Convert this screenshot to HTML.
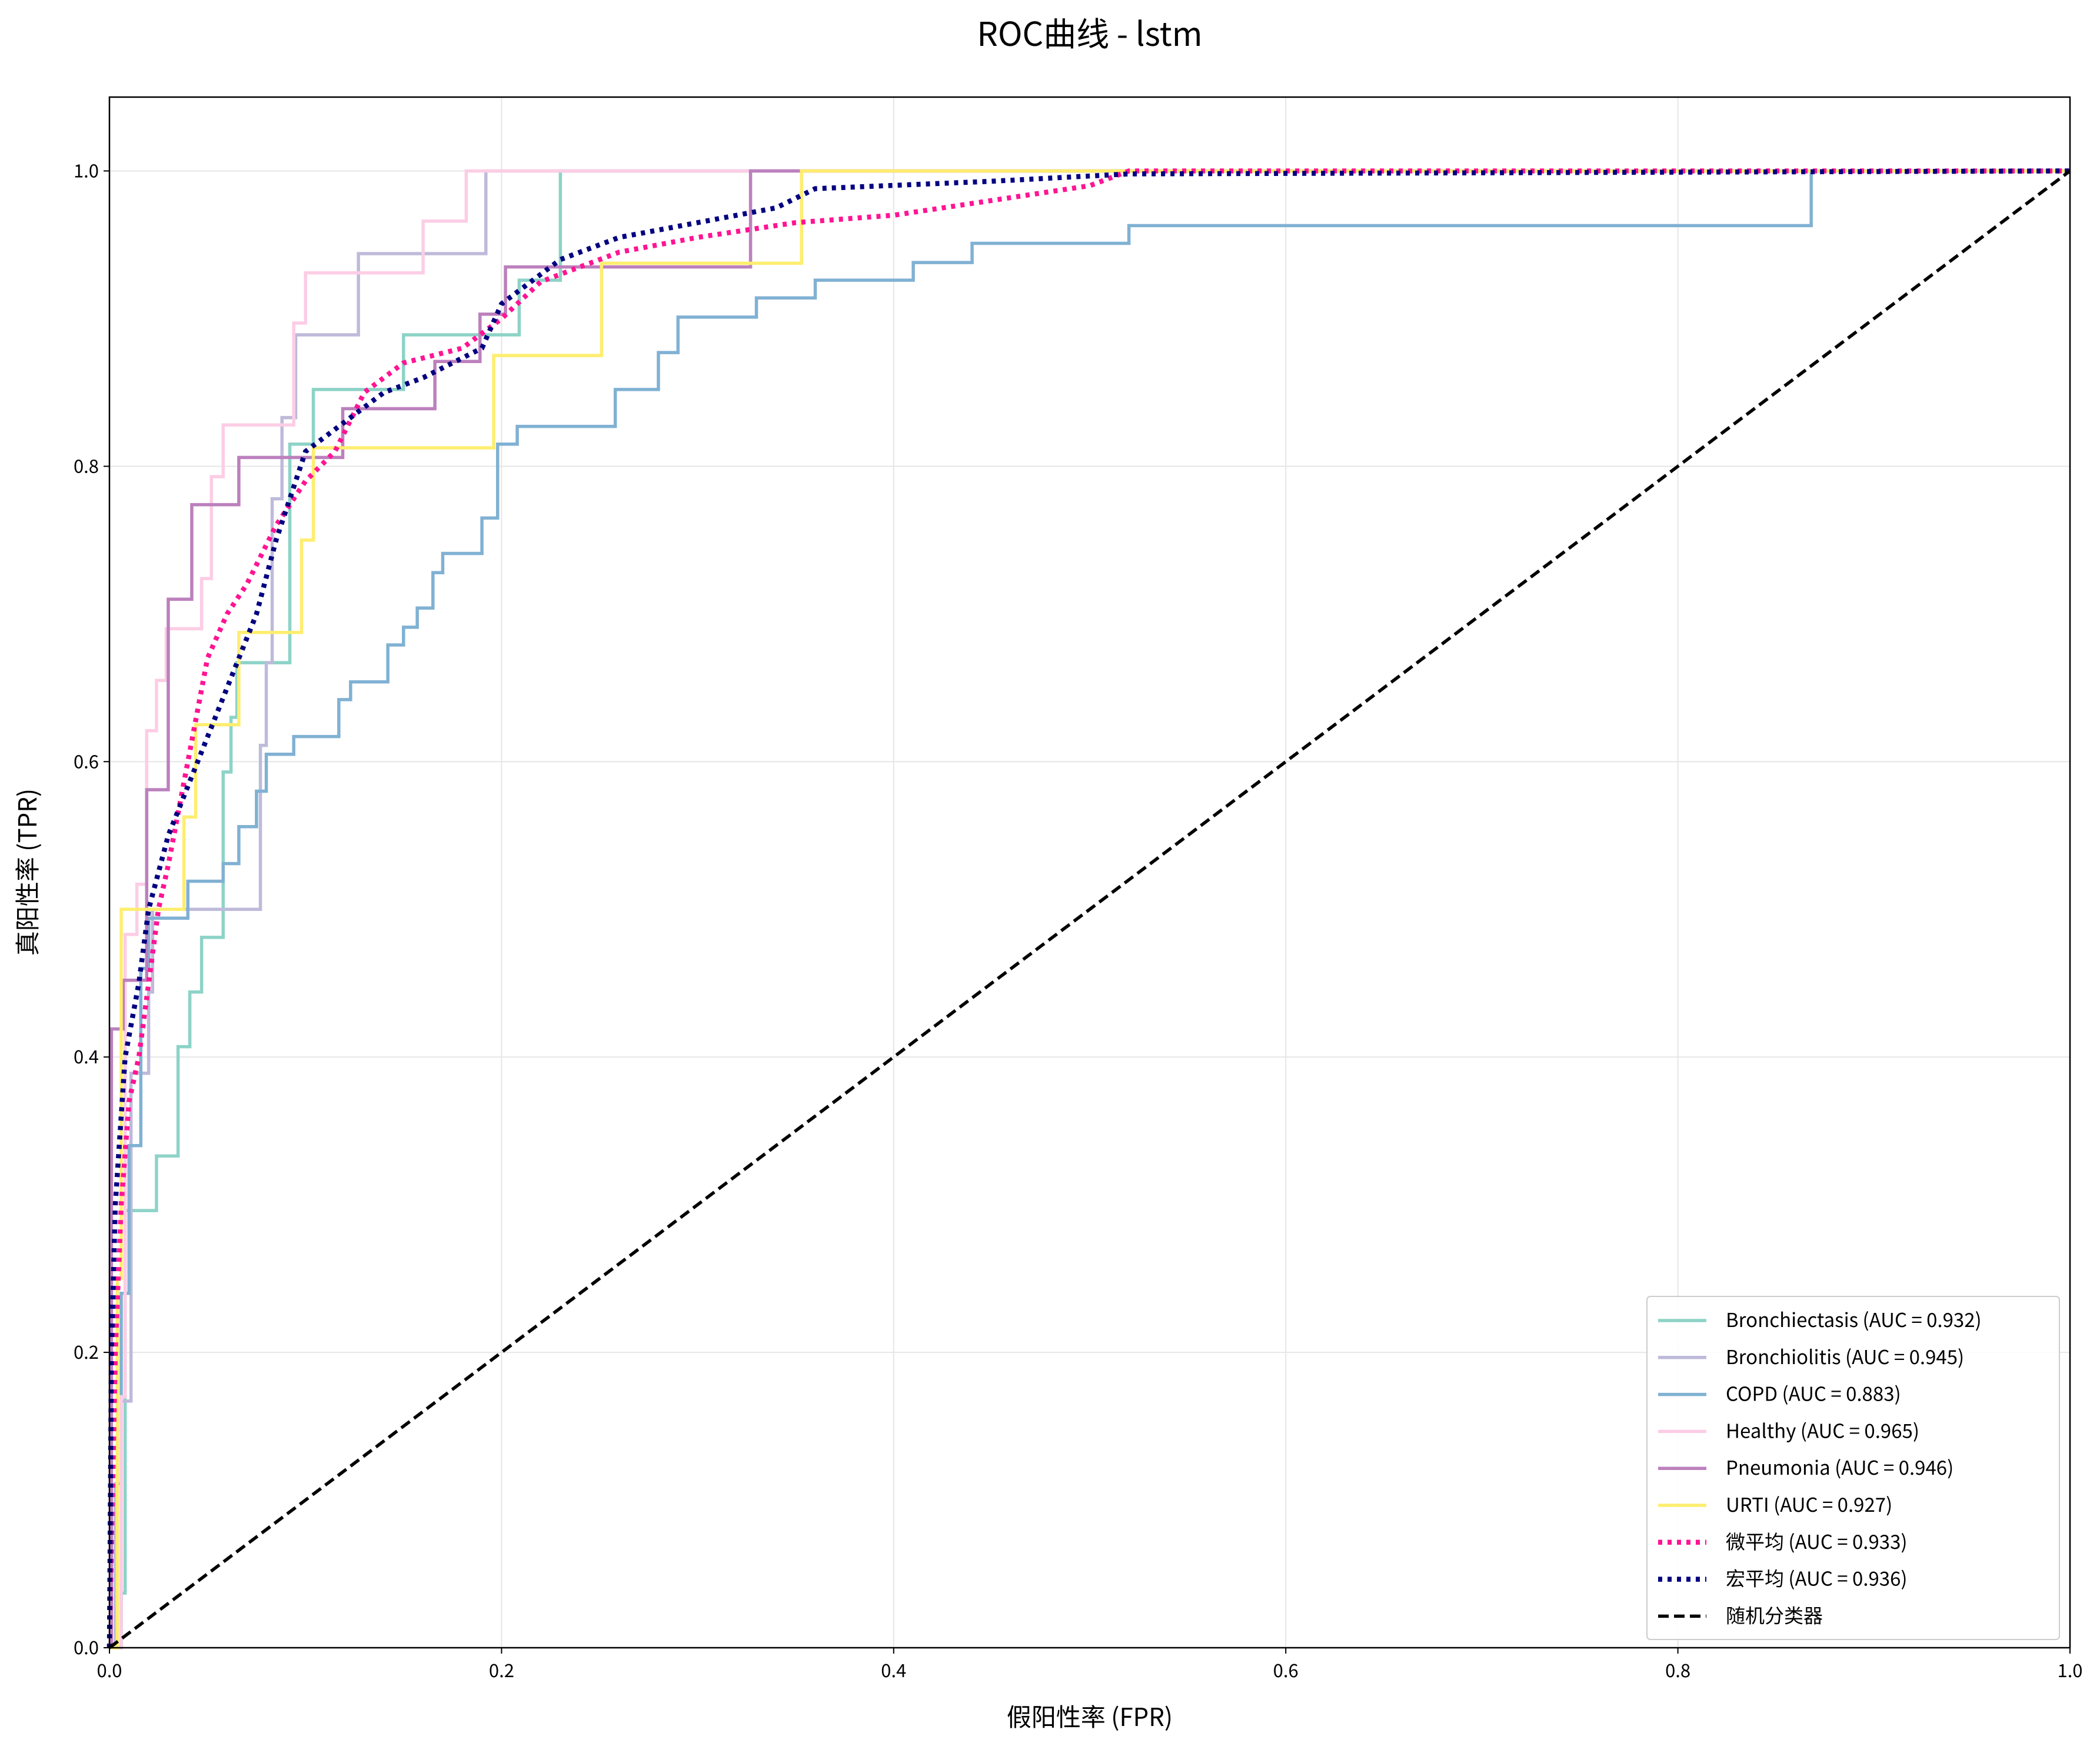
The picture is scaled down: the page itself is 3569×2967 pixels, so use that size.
<!DOCTYPE html>
<html><head><meta charset="utf-8"><style>
html,body{margin:0;padding:0;background:#fff}
svg{display:block}
text{font-family:"Noto Sans CJK SC","Liberation Sans",sans-serif}
</style></head><body>
<svg id="chart" width="3569" height="2967" viewBox="0 0 3569 2967" xmlns="http://www.w3.org/2000/svg">
<rect width="3569" height="2967" fill="#fff"/>
<text x="1852" y="78" font-size="56" text-anchor="middle" fill="#000">ROC曲线 - lstm</text>
<g id="grid"></g>
<g id="series"></g>
<rect x="186" y="165" width="3332" height="2635" fill="none" stroke="#000" stroke-width="2.5"/>
<g id="ticks"></g>
<text x="1852" y="2933" font-size="42" text-anchor="middle">假阳性率 (FPR)</text>
<text transform="translate(62,1482) rotate(-90)" font-size="42" text-anchor="middle">真阳性率 (TPR)</text>
<g id="legend"></g>
</svg>
<script>
const tickVals=[0,0.2,0.4,0.6,0.8,1.0];
const tickLabels=["0.0","0.2","0.4","0.6","0.8","1.0"];
const names=["Bronchiectasis (AUC = 0.932)","Bronchiolitis (AUC = 0.945)","COPD (AUC = 0.883)","Healthy (AUC = 0.965)","Pneumonia (AUC = 0.946)","URTI (AUC = 0.927)","微平均 (AUC = 0.933)","宏平均 (AUC = 0.936)","随机分类器"];
const bronchiectasisFpr=[0,0.006,0.008,0.024,0.035,0.041,0.047,0.058,0.062,0.065,0.092,0.104,0.15,0.209,0.23,1];
const bronchiectasisTpr=[0,0.037,0.296,0.333,0.407,0.444,0.481,0.593,0.630,0.667,0.815,0.852,0.889,0.926,1.0,1.0];
const bronchiolitisFpr=[0,0.003,0.006,0.011,0.02,0.022,0.077,0.08,0.083,0.088,0.095,0.127,0.192,1];
const bronchiolitisTpr=[0,0.111,0.167,0.389,0.444,0.5,0.611,0.667,0.778,0.833,0.889,0.944,1.0,1.0];
const copdFpr=[0,0.006,0.01,0.016,0.02,0.04,0.058,0.066,0.075,0.08,0.094,0.117,0.123,0.142,0.15,0.157,0.165,0.17,0.19,0.198,0.208,0.258,0.28,0.29,0.33,0.36,0.41,0.44,0.52,0.868,1];
const copdTpr=[0,0.24,0.34,0.46,0.494,0.519,0.531,0.556,0.58,0.605,0.617,0.642,0.654,0.679,0.691,0.704,0.728,0.741,0.765,0.815,0.827,0.852,0.877,0.901,0.914,0.926,0.938,0.951,0.963,1.0,1.0];
const healthyFpr=[0,0.006,0.008,0.014,0.019,0.024,0.029,0.047,0.052,0.058,0.094,0.1,0.16,0.182,1];
const healthyTpr=[0,0.17,0.483,0.517,0.621,0.655,0.69,0.724,0.793,0.828,0.897,0.931,0.966,1.0,1.0];
const pneumoniaFpr=[0,0.001,0.007,0.019,0.03,0.042,0.066,0.119,0.166,0.189,0.202,0.327,1];
const pneumoniaTpr=[0,0.419,0.452,0.581,0.71,0.774,0.806,0.839,0.871,0.903,0.935,1.0,1.0];
const urtiFpr=[0,0.004,0.006,0.038,0.044,0.066,0.098,0.104,0.196,0.251,0.353,1];
const urtiTpr=[0,0.25,0.5,0.5625,0.625,0.6875,0.75,0.8125,0.875,0.9375,1.0,1.0];
const microFpr=[0,0.003,0.006,0.01,0.015,0.02,0.025,0.03,0.04,0.05,0.06,0.07,0.085,0.1,0.115,0.13,0.15,0.18,0.2,0.22,0.26,0.3,0.35,0.4,0.45,0.5,0.52,1];
const microTpr=[0,0.2,0.3,0.37,0.4,0.45,0.5,0.53,0.6,0.67,0.7,0.72,0.76,0.79,0.81,0.85,0.87,0.88,0.9,0.925,0.945,0.955,0.965,0.97,0.98,0.99,1.0,1.0];
const macroFpr=[0,0.001,0.003,0.008,0.015,0.02,0.03,0.045,0.06,0.075,0.085,0.1,0.12,0.14,0.16,0.19,0.2,0.23,0.26,0.3,0.34,0.36,0.45,0.52,1];
const macroTpr=[0,0.2,0.3,0.4,0.45,0.5,0.55,0.6,0.65,0.7,0.75,0.81,0.83,0.85,0.86,0.88,0.91,0.94,0.955,0.965,0.975,0.988,0.993,0.998,1.0];

const L=186,R=3518,T=165,B=2800,YMAX=1.05;
const xs=v=>L+v*(R-L);
const ys=v=>B-v/YMAX*(B-T);
const NS="http://www.w3.org/2000/svg";
function mk(tag,parent){const e=document.createElementNS(NS,tag);parent.appendChild(e);return e;}
const grid=document.getElementById('grid'),ticks=document.getElementById('ticks');
tickVals.forEach((v,i)=>{
  let g=mk('line',grid);g.setAttribute('x1',xs(v));g.setAttribute('x2',xs(v));g.setAttribute('y1',T);g.setAttribute('y2',B);g.setAttribute('stroke','#e6e6e6');g.setAttribute('stroke-width','2');
  
  
  g=mk('line',grid);g.setAttribute('x1',L);g.setAttribute('x2',R);g.setAttribute('y1',ys(v));g.setAttribute('y2',ys(v));g.setAttribute('stroke','#e6e6e6');g.setAttribute('stroke-width','2');
  
  
  let t=mk('line',ticks);t.setAttribute('x1',xs(v));t.setAttribute('x2',xs(v));t.setAttribute('y1',B);t.setAttribute('y2',B+10);t.setAttribute('stroke','#000');t.setAttribute('stroke-width','2');
  
  
  t=mk('line',ticks);t.setAttribute('x1',L-10);t.setAttribute('x2',L);t.setAttribute('y1',ys(v));t.setAttribute('y2',ys(v));t.setAttribute('stroke','#000');t.setAttribute('stroke-width','2');
  
  
  let tx=mk('text',ticks);tx.textContent=tickLabels[i];tx.setAttribute('x',xs(v));tx.setAttribute('y',B+50);tx.setAttribute('font-size','31');tx.setAttribute('text-anchor','middle');
  
  
  tx=mk('text',ticks);tx.textContent=tickLabels[i];tx.setAttribute('x',L-18);tx.setAttribute('y',ys(v)+11);tx.setAttribute('font-size','31');tx.setAttribute('text-anchor','end');
  
  
});
const series=document.getElementById('series');
function stepPath(f,t){let d='M'+xs(f[0])+','+ys(t[0]);for(let i=1;i<f.length;i++){d+=' H'+xs(f[i])+' V'+ys(t[i]);}return d;}
function linePath(f,t){return f.map((v,i)=>(i?'L':'M')+xs(v)+','+ys(t[i])).join(' ');}
const specs=[
 [bronchiectasisFpr,bronchiectasisTpr,'#8dd3c7',null,'step','curve-bronchiectasis'],
 [bronchiolitisFpr,bronchiolitisTpr,'#bebada',null,'step','curve-bronchiolitis'],
 [copdFpr,copdTpr,'#80b1d3',null,'step','curve-copd'],
 [healthyFpr,healthyTpr,'#fccde5',null,'step','curve-healthy'],
 [pneumoniaFpr,pneumoniaTpr,'#bc80bd',null,'step','curve-pneumonia'],
 [urtiFpr,urtiTpr,'#ffed6f',null,'step','curve-urti'],
 [microFpr,microTpr,'#ff1493','7 9','line','curve-micro-average'],
 [macroFpr,macroTpr,'#000080','7 9','line','curve-macro-average'],
 [[0,1],[0,1],'#000','18 9','line','random-classifier-line']
];
specs.forEach((s,i)=>{
  const p=mk('path',series);
  p.setAttribute('d',s[4]==='step'?stepPath(s[0],s[1]):linePath(s[0],s[1]));
  p.setAttribute('fill','none');p.setAttribute('stroke',s[2]);
  p.setAttribute('stroke-width',i>=6&&i<8?'8.5':(i===8?'5.5':'5.5'));
  if(s[3])p.setAttribute('stroke-dasharray',s[3]);
  
  
});
const lg=document.getElementById('legend');
const box=mk('rect',lg);box.setAttribute('x',2799);box.setAttribute('y',2203);box.setAttribute('width',701);box.setAttribute('height',583);box.setAttribute('rx',6);box.setAttribute('fill','#fff');box.setAttribute('fill-opacity','0.85');box.setAttribute('stroke','#ccc');box.setAttribute('stroke-width','2');


names.forEach((n,i)=>{
  const y=2244+i*62.8;
  const l=mk('line',lg);l.setAttribute('x1',2818);l.setAttribute('x2',2900);l.setAttribute('y1',y);l.setAttribute('y2',y);l.setAttribute('stroke',specs[i][2]);
  l.setAttribute('stroke-width',i>=6&&i<8?'8.5':'5.5');
  if(specs[i][3])l.setAttribute('stroke-dasharray',specs[i][3]);
  
  
  const t=mk('text',lg);t.textContent=n;t.setAttribute('x',2933);t.setAttribute('y',y+11);t.setAttribute('font-size','33');
  
  
});
</script>
</body></html>
